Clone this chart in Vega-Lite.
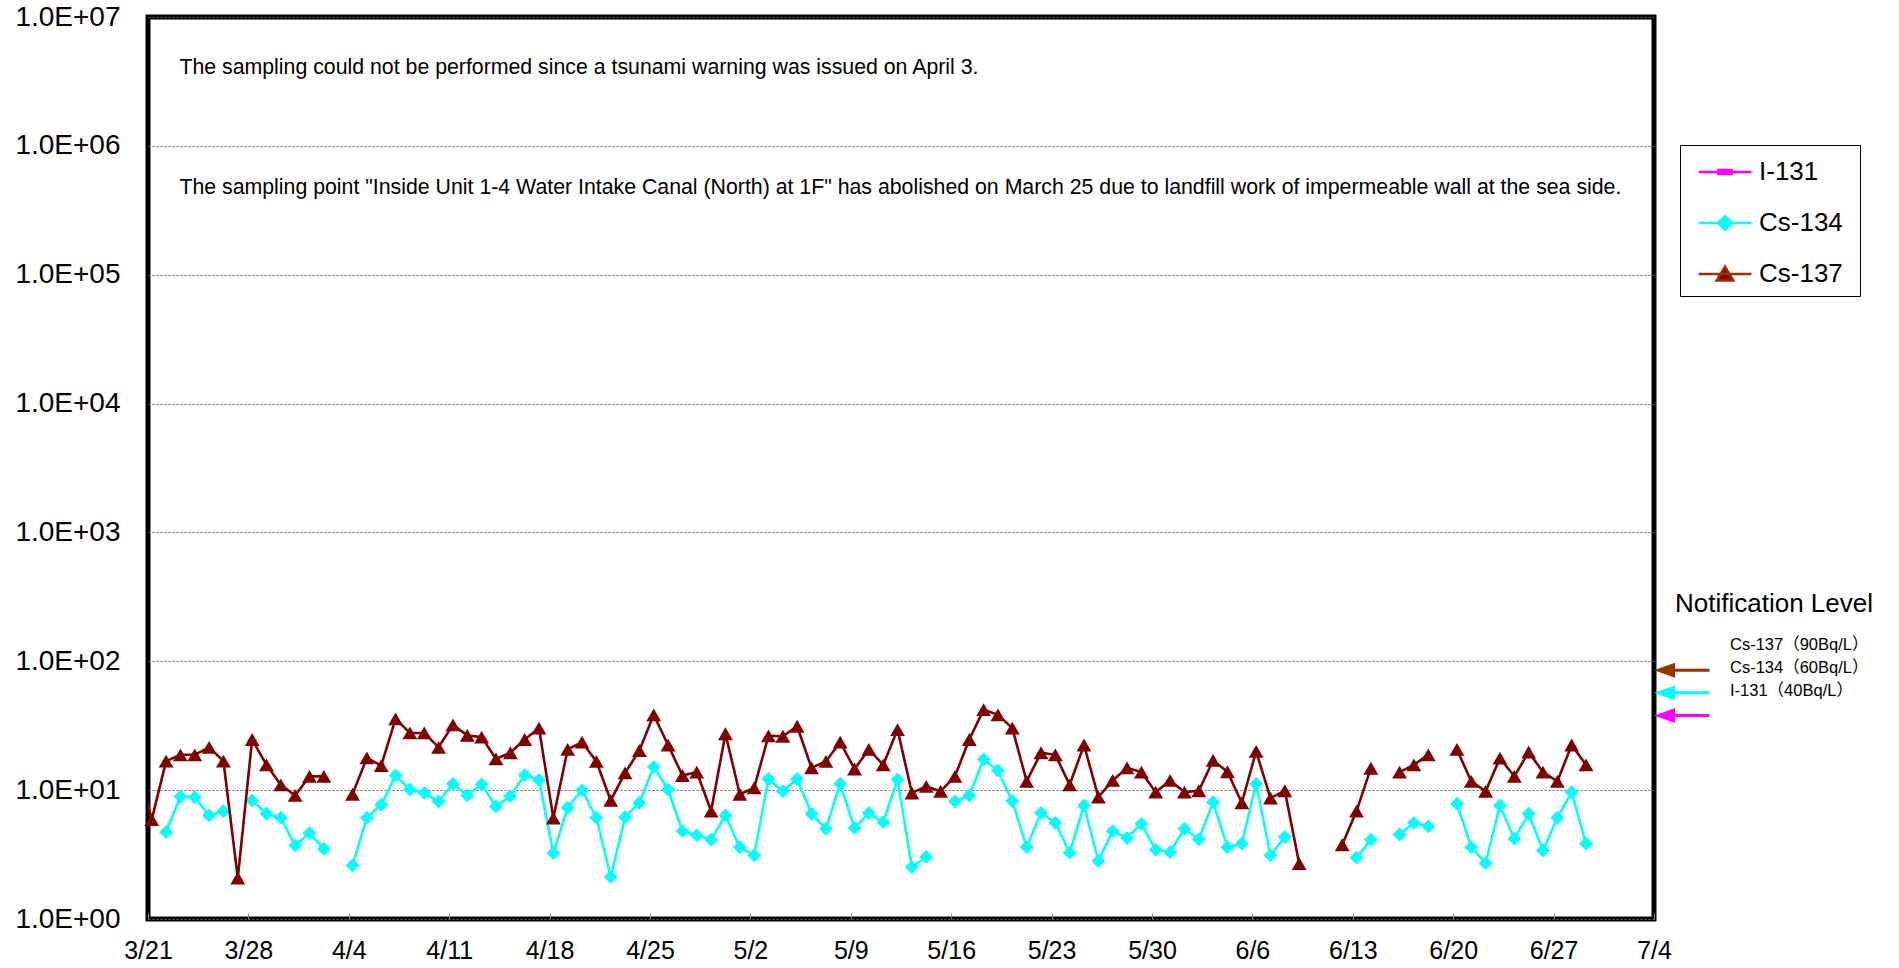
{
  "$schema": "https://vega.github.io/schema/vega-lite/v6.json",
  "width": 1506,
  "height": 902,
  "autosize": "none",
  "padding": {"left": 148, "top": 17, "right": 245, "bottom": 49},
  "background": "white",
  "datasets": {
    "obs": [
      {"date": "2014-03-20T06:15", "Cs134": null, "Cs137": 15.6},
      {"date": "2014-03-21T06:15", "Cs134": null, "Cs137": 5.9},
      {"date": "2014-03-22T06:15", "Cs134": 4.72, "Cs137": 16.8},
      {"date": "2014-03-23T06:15", "Cs134": 8.93, "Cs137": 18.8},
      {"date": "2014-03-24T06:15", "Cs134": 8.8, "Cs137": 18.8},
      {"date": "2014-03-25T06:15", "Cs134": 6.37, "Cs137": 21.5},
      {"date": "2014-03-26T06:15", "Cs134": 6.88, "Cs137": 16.8},
      {"date": "2014-03-27T06:15", "Cs134": null, "Cs137": 2.08},
      {"date": "2014-03-28T06:15", "Cs134": 8.32, "Cs137": 24.7},
      {"date": "2014-03-29T06:15", "Cs134": 6.56, "Cs137": 15.7},
      {"date": "2014-03-30T06:15", "Cs134": 6.11, "Cs137": 11.0},
      {"date": "2014-03-31T06:15", "Cs134": 3.72, "Cs137": 9.1},
      {"date": "2014-04-01T06:15", "Cs134": 4.64, "Cs137": 12.8},
      {"date": "2014-04-02T06:15", "Cs134": 3.51, "Cs137": 12.8},
      {"date": "2014-04-03T06:15", "Cs134": null, "Cs137": null},
      {"date": "2014-04-04T06:15", "Cs134": 2.61, "Cs137": 9.3},
      {"date": "2014-04-05T06:15", "Cs134": 6.11, "Cs137": 17.8},
      {"date": "2014-04-06T06:15", "Cs134": 7.7, "Cs137": 15.5},
      {"date": "2014-04-07T06:15", "Cs134": 13.0, "Cs137": 35.7},
      {"date": "2014-04-08T06:15", "Cs134": 10.1, "Cs137": 27.8},
      {"date": "2014-04-09T06:15", "Cs134": 9.5, "Cs137": 27.8},
      {"date": "2014-04-10T06:15", "Cs134": 8.17, "Cs137": 21.5},
      {"date": "2014-04-11T06:15", "Cs134": 11.2, "Cs137": 32.1},
      {"date": "2014-04-12T06:15", "Cs134": 9.1, "Cs137": 26.6},
      {"date": "2014-04-13T06:15", "Cs134": 11.1, "Cs137": 25.8},
      {"date": "2014-04-14T06:15", "Cs134": 7.47, "Cs137": 17.5},
      {"date": "2014-04-15T06:15", "Cs134": 8.98, "Cs137": 19.5},
      {"date": "2014-04-16T06:15", "Cs134": 13.1, "Cs137": 24.7},
      {"date": "2014-04-17T06:15", "Cs134": 12.0, "Cs137": 30.3},
      {"date": "2014-04-18T06:15", "Cs134": 3.25, "Cs137": 6.07},
      {"date": "2014-04-19T06:15", "Cs134": 7.3, "Cs137": 20.7},
      {"date": "2014-04-20T06:15", "Cs134": 10.0, "Cs137": 23.6},
      {"date": "2014-04-21T06:15", "Cs134": 6.11, "Cs137": 16.7},
      {"date": "2014-04-22T06:15", "Cs134": 2.12, "Cs137": 8.32},
      {"date": "2014-04-23T06:15", "Cs134": 6.17, "Cs137": 13.6},
      {"date": "2014-04-24T06:15", "Cs134": 7.98, "Cs137": 20.3},
      {"date": "2014-04-25T06:15", "Cs134": 15.1, "Cs137": 38.4},
      {"date": "2014-04-26T06:15", "Cs134": 10.1, "Cs137": 22.4},
      {"date": "2014-04-27T06:15", "Cs134": 4.81, "Cs137": 13.0},
      {"date": "2014-04-28T06:15", "Cs134": 4.46, "Cs137": 13.8},
      {"date": "2014-04-29T06:15", "Cs134": 4.12, "Cs137": 6.88},
      {"date": "2014-04-30T06:15", "Cs134": 6.37, "Cs137": 27.4},
      {"date": "2014-05-01T06:15", "Cs134": 3.61, "Cs137": 9.3},
      {"date": "2014-05-02T06:15", "Cs134": 3.12, "Cs137": 10.4},
      {"date": "2014-05-03T06:15", "Cs134": 12.2, "Cs137": 26.4},
      {"date": "2014-05-04T06:15", "Cs134": 9.8, "Cs137": 26.2},
      {"date": "2014-05-05T06:15", "Cs134": 12.2, "Cs137": 31.3},
      {"date": "2014-05-06T06:15", "Cs134": 6.56, "Cs137": 14.9},
      {"date": "2014-05-07T06:15", "Cs134": 5.01, "Cs137": 16.7},
      {"date": "2014-05-08T06:15", "Cs134": 11.2, "Cs137": 23.6},
      {"date": "2014-05-09T06:15", "Cs134": 5.1, "Cs137": 14.6},
      {"date": "2014-05-10T06:15", "Cs134": 6.64, "Cs137": 20.7},
      {"date": "2014-05-11T06:15", "Cs134": 5.65, "Cs137": 15.7},
      {"date": "2014-05-12T06:15", "Cs134": 12.1, "Cs137": 29.5},
      {"date": "2014-05-13T06:15", "Cs134": 2.53, "Cs137": 9.5},
      {"date": "2014-05-14T06:15", "Cs134": 3.03, "Cs137": 10.7},
      {"date": "2014-05-15T06:15", "Cs134": null, "Cs137": 9.8},
      {"date": "2014-05-16T06:15", "Cs134": 8.17, "Cs137": 12.8},
      {"date": "2014-05-17T06:15", "Cs134": 9.1, "Cs137": 24.7},
      {"date": "2014-05-18T06:15", "Cs134": 17.3, "Cs137": 42.2},
      {"date": "2014-05-19T06:15", "Cs134": 14.2, "Cs137": 38.4},
      {"date": "2014-05-20T06:15", "Cs134": 8.22, "Cs137": 30.3},
      {"date": "2014-05-21T06:15", "Cs134": 3.61, "Cs137": 11.7},
      {"date": "2014-05-22T06:15", "Cs134": 6.67, "Cs137": 19.5},
      {"date": "2014-05-23T06:15", "Cs134": 5.58, "Cs137": 18.8},
      {"date": "2014-05-24T06:15", "Cs134": 3.27, "Cs137": 11.0},
      {"date": "2014-05-25T06:15", "Cs134": 7.6, "Cs137": 22.4},
      {"date": "2014-05-26T06:15", "Cs134": 2.82, "Cs137": 8.83},
      {"date": "2014-05-27T06:15", "Cs134": 4.81, "Cs137": 11.9},
      {"date": "2014-05-28T06:15", "Cs134": 4.25, "Cs137": 14.9},
      {"date": "2014-05-29T06:15", "Cs134": 5.48, "Cs137": 13.8},
      {"date": "2014-05-30T06:15", "Cs134": 3.44, "Cs137": 9.65},
      {"date": "2014-05-31T06:15", "Cs134": 3.3, "Cs137": 11.9},
      {"date": "2014-06-01T06:15", "Cs134": 5.01, "Cs137": 9.65},
      {"date": "2014-06-02T06:15", "Cs134": 4.15, "Cs137": 9.9},
      {"date": "2014-06-03T06:15", "Cs134": 8.07, "Cs137": 17.0},
      {"date": "2014-06-04T06:15", "Cs134": 3.61, "Cs137": 13.9},
      {"date": "2014-06-05T06:15", "Cs134": 3.84, "Cs137": 7.98},
      {"date": "2014-06-06T06:15", "Cs134": 11.2, "Cs137": 20.0},
      {"date": "2014-06-07T06:15", "Cs134": 3.12, "Cs137": 8.67},
      {"date": "2014-06-08T06:15", "Cs134": 4.33, "Cs137": 9.9},
      {"date": "2014-06-09T06:15", "Cs134": null, "Cs137": 2.69},
      {"date": "2014-06-10T06:15", "Cs134": null, "Cs137": null},
      {"date": "2014-06-11T06:15", "Cs134": null, "Cs137": null},
      {"date": "2014-06-12T06:15", "Cs134": null, "Cs137": 3.77},
      {"date": "2014-06-13T06:15", "Cs134": 2.99, "Cs137": 6.88},
      {"date": "2014-06-14T06:15", "Cs134": 4.13, "Cs137": 14.8},
      {"date": "2014-06-15T06:15", "Cs134": null, "Cs137": null},
      {"date": "2014-06-16T06:15", "Cs134": 4.53, "Cs137": 13.8},
      {"date": "2014-06-17T06:15", "Cs134": 5.58, "Cs137": 15.7},
      {"date": "2014-06-18T06:15", "Cs134": 5.23, "Cs137": 18.8},
      {"date": "2014-06-19T06:15", "Cs134": null, "Cs137": null},
      {"date": "2014-06-20T06:15", "Cs134": 7.84, "Cs137": 20.7},
      {"date": "2014-06-21T06:15", "Cs134": 3.61, "Cs137": 11.7},
      {"date": "2014-06-22T06:15", "Cs134": 2.72, "Cs137": 9.8},
      {"date": "2014-06-23T06:15", "Cs134": 7.6, "Cs137": 17.7},
      {"date": "2014-06-24T06:15", "Cs134": 4.2, "Cs137": 12.8},
      {"date": "2014-06-25T06:15", "Cs134": 6.56, "Cs137": 19.7},
      {"date": "2014-06-26T06:15", "Cs134": 3.4, "Cs137": 13.8},
      {"date": "2014-06-27T06:15", "Cs134": 6.11, "Cs137": 11.7},
      {"date": "2014-06-28T06:15", "Cs134": 9.65, "Cs137": 22.4},
      {"date": "2014-06-29T06:15", "Cs134": 3.84, "Cs137": 15.7}
    ],
    "levels": [
      {"nuclide": "Cs-137", "level": 90, "label": "Cs-137（90Bq/L）"},
      {"nuclide": "Cs-134", "level": 60, "label": "Cs-134（60Bq/L）"},
      {"nuclide": "I-131", "level": 40, "label": "I-131（40Bq/L）"}
    ]
  },
  "data": {"name": "obs"},
  "encoding": {
    "x": {
      "field": "date",
      "type": "temporal",
      "scale": {"domain": [{"year": 2014, "month": 3, "date": 21}, {"year": 2014, "month": 7, "date": 4}], "nice": false},
      "axis": {
        "title": null,
        "values": [
          {"year": 2014, "month": 3, "date": 21}, {"year": 2014, "month": 3, "date": 28},
          {"year": 2014, "month": 4, "date": 4}, {"year": 2014, "month": 4, "date": 11},
          {"year": 2014, "month": 4, "date": 18}, {"year": 2014, "month": 4, "date": 25},
          {"year": 2014, "month": 5, "date": 2}, {"year": 2014, "month": 5, "date": 9},
          {"year": 2014, "month": 5, "date": 16}, {"year": 2014, "month": 5, "date": 23},
          {"year": 2014, "month": 5, "date": 30}, {"year": 2014, "month": 6, "date": 6},
          {"year": 2014, "month": 6, "date": 13}, {"year": 2014, "month": 6, "date": 20},
          {"year": 2014, "month": 6, "date": 27}, {"year": 2014, "month": 7, "date": 4}
        ],
        "format": "%-m/%-d",
        "grid": false,
        "domain": false,
        "ticks": true,
        "tickSize": -6,
        "tickColor": "#888888",
        "tickWidth": 1,
        "labelFont": "Liberation Sans",
        "labelFontSize": 25,
        "labelColor": "black",
        "labelBaseline": "middle",
        "labelPadding": 37.5,
        "labelFlush": false,
        "labelOverlap": false
      }
    }
  },
  "layer": [
    {
      "mark": {"type": "line", "color": "#00FFFF", "strokeWidth": 2.6, "clip": true},
      "encoding": {
        "y": {
          "field": "Cs134",
          "type": "quantitative",
          "scale": {"type": "log", "domain": [1, 10000000], "nice": false},
          "axis": {
            "title": null,
            "values": [1, 10, 100, 1000, 10000, 100000, 1000000, 10000000],
            "labelExpr": "'1.0E+0' + round(log(datum.value) / LN10)",
            "grid": true,
            "gridColor": "#666666",
            "gridDash": [2, 2],
            "gridWidth": 1,
            "domain": false,
            "ticks": false,
            "labelFont": "Liberation Sans",
            "labelFontSize": 28,
            "labelColor": "black",
            "labelPadding": 28,
            "labelOverlap": false,
            "labelFlush": false
          }
        }
      }
    },
    {
      "transform": [{"filter": "datum.Cs134 != null"}],
      "mark": {"type": "point", "shape": "diamond", "filled": true, "color": "#00FFFF", "size": 190, "opacity": 1},
      "encoding": {
        "y": {"field": "Cs134", "type": "quantitative", "scale": {"type": "log", "domain": [1, 10000000], "nice": false}}
      }
    },
    {
      "mark": {"type": "line", "color": "#800000", "strokeWidth": 2.6, "clip": true},
      "encoding": {
        "y": {"field": "Cs137", "type": "quantitative", "scale": {"type": "log", "domain": [1, 10000000], "nice": false}}
      }
    },
    {
      "transform": [{"filter": "datum.Cs137 != null && time(datum.date) >= datetime(2014, 2, 21)"}],
      "mark": {"type": "point", "shape": "triangle-up", "filled": true, "color": "#800000", "size": 220, "opacity": 1},
      "encoding": {
        "y": {"field": "Cs137", "type": "quantitative", "scale": {"type": "log", "domain": [1, 10000000], "nice": false}}
      }
    },
    {
      "transform": [{"filter": "false"}],
      "mark": {"type": "point", "filled": true, "opacity": 1},
      "encoding": {
        "y": {"field": "Cs137", "type": "quantitative", "scale": {"type": "log", "domain": [1, 10000000], "nice": false}},
        "color": {
          "field": "nuclide",
          "type": "nominal",
          "scale": {"domain": ["I-131", "Cs-134", "Cs-137"], "range": ["#FF00FF", "#00FFFF", "#800000"]},
          "legend": {
            "title": "MMMMMMMMMMMMMMMMMMMMMMMM",
            "titleOrient": "bottom",
            "titleAnchor": "start",
            "titleFontSize": 9,
            "titlePadding": 0,
            "titleOpacity": 0,
            "orient": "none",
            "legendX": 1532,
            "legendY": 128,
            "padding": 0,
            "symbolSize": 2580,
            "symbolOffset": 18,
            "labelOffset": 7,
            "rowPadding": 11,
            "labelFont": "Liberation Sans",
            "labelFontSize": 26,
            "labelColor": "black",
            "labelBaseline": "middle",
            "strokeColor": "black",
            "symbolStrokeWidth": 2.5,
            "encode": {
              "symbols": {"update": {"fill": {"scale": "color", "field": "value"}, "stroke": {"scale": "color", "field": "value"}, "strokeWidth": {"value": 2.5}, "opacity": {"value": 1}}},
              "legend": {"update": {"strokeWidth": {"value": 2}}}
            }
          }
        },
        "shape": {
          "field": "nuclide",
          "type": "nominal",
          "scale": {
            "domain": ["I-131", "Cs-134", "Cs-137"],
            "range": [
              "M-1.04,0H1.04M-0.26,-0.08H0.26V0.08H-0.26Z",
              "M-1.04,0H1.04M-0.27,0L0,-0.27L0.27,0L0,0.27Z",
              "M-1.04,0H1.04M0,-0.29L0.33,0.26L-0.33,0.26Z"
            ]
          },
          "legend": {
            "title": "MMMMMMMMMMMMMMMMMMMMMMMM",
            "titleOrient": "bottom",
            "titleAnchor": "start",
            "titleFontSize": 9,
            "titlePadding": 0,
            "titleOpacity": 0,
            "orient": "none",
            "legendX": 1532,
            "legendY": 128,
            "padding": 0,
            "symbolSize": 2580,
            "symbolOffset": 18,
            "labelOffset": 7,
            "rowPadding": 11,
            "labelFont": "Liberation Sans",
            "labelFontSize": 26,
            "labelColor": "black",
            "labelBaseline": "middle",
            "strokeColor": "black",
            "symbolStrokeWidth": 2.5,
            "encode": {
              "symbols": {"update": {"fill": {"scale": "color", "field": "value"}, "stroke": {"scale": "color", "field": "value"}, "strokeWidth": {"value": 2.5}, "opacity": {"value": 1}}},
              "legend": {"update": {"strokeWidth": {"value": 2}}}
            }
          }
        }
      }
    },
    {
      "data": {"name": "levels"},
      "mark": {"type": "point", "filled": true, "opacity": 1, "strokeWidth": 3, "xOffset": 30, "yOffset": 3, "size": 2601, "shape": "M-1,0L-0.41,-0.21L-0.41,0.21Z M-0.45,0H1"},
      "encoding": {
        "x": {"value": "width"},
        "y": {"field": "level", "type": "quantitative", "scale": {"type": "log", "domain": [1, 10000000], "nice": false}},
        "fill": {"field": "nuclide", "type": "nominal", "scale": {"domain": ["I-131", "Cs-134", "Cs-137"], "range": ["#FF00FF", "#00FFFF", "#993300"]}, "legend": null},
        "stroke": {"field": "nuclide", "type": "nominal", "scale": {"domain": ["I-131", "Cs-134", "Cs-137"], "range": ["#FF00FF", "#00FFFF", "#993300"]}, "legend": null}
      }
    },
    {
      "data": {"name": "levels"},
      "mark": {"type": "text", "align": "left", "baseline": "middle", "xOffset": 76, "dy": -22, "font": "Liberation Sans, Noto Sans CJK JP", "fontSize": 16.5, "color": "black"},
      "encoding": {
        "x": {"value": "width"},
        "y": {"field": "level", "type": "quantitative", "scale": {"type": "log", "domain": [1, 10000000], "nice": false}},
        "text": {"field": "label"}
      }
    },
    {
      "data": {"name": "levels"},
      "transform": [{"filter": "datum.nuclide == 'Cs-137'"}],
      "mark": {"type": "text", "align": "left", "baseline": "middle", "xOffset": 21, "dy": -63, "font": "Liberation Sans", "fontSize": 26, "color": "black"},
      "encoding": {
        "x": {"value": "width"},
        "y": {"field": "level", "type": "quantitative", "scale": {"type": "log", "domain": [1, 10000000], "nice": false}},
        "text": {"value": "Notification Level"}
      }
    },
    {
      "transform": [{"filter": "time(datum.date) == time(datetime(2014, 2, 23, 6, 15))"}],
      "mark": {"type": "text", "align": "left", "baseline": "middle", "font": "Liberation Sans", "fontSize": 21.3, "color": "black", "dx": -1},
      "encoding": {
        "y": {"datum": 4000000, "type": "quantitative", "scale": {"type": "log", "domain": [1, 10000000], "nice": false}},
        "text": {"value": "The sampling could not be performed since a tsunami warning was issued on April 3."}
      }
    },
    {
      "transform": [{"filter": "time(datum.date) == time(datetime(2014, 2, 23, 6, 15))"}],
      "mark": {"type": "text", "align": "left", "baseline": "middle", "font": "Liberation Sans", "fontSize": 21.3, "color": "black", "dx": -1},
      "encoding": {
        "y": {"datum": 475000, "type": "quantitative", "scale": {"type": "log", "domain": [1, 10000000], "nice": false}},
        "text": {"value": "The sampling point \"Inside Unit 1-4 Water Intake Canal (North) at 1F\" has abolished on March 25 due to landfill work of impermeable wall at the sea side."}
      }
    }
  ],
  "config": {
    "view": {"stroke": "black", "strokeWidth": 5},
    "font": "Liberation Sans"
  }
}
